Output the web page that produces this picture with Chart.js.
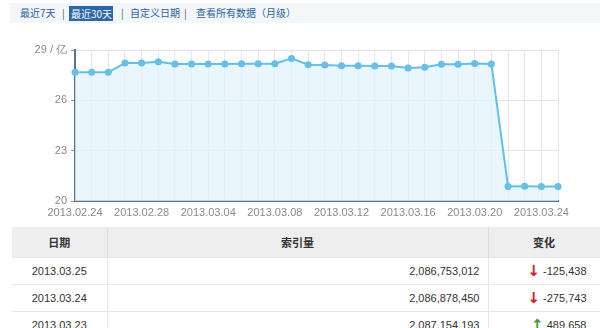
<!DOCTYPE html>
<html><head><meta charset="utf-8">
<script src="https://cdn.jsdelivr.net/npm/chart.js@4"></script>
<style>
html,body{margin:0;padding:0;background:#fff;width:600px;height:328px;overflow:hidden;font-family:"Liberation Sans","Noto Sans CJK SC",sans-serif;}
#tabs{position:absolute;left:10px;top:3px;width:590px;height:20px;background:#f4f7fa;font-size:10px;font-family:"Noto Sans CJK SC",sans-serif;color:#2a5ea8;line-height:20px;}
#tabs span{position:absolute;top:0;white-space:nowrap;}
#tabs .sep{color:#555;}
#tabs .sel{background:#2b67ae;color:#fff;top:3px;height:15px;line-height:15px;padding:0 2px;}
#wrap{position:absolute;left:0;top:0;width:600px;height:225px;}
table{position:absolute;left:12px;top:227px;width:588px;border-collapse:collapse;table-layout:fixed;font-size:11px;color:#333;}
th{background:#eeeeee;height:30px;font-family:"Noto Sans CJK SC",sans-serif;font-weight:bold;font-size:11px;border-right:1px solid #dddddd;padding:0;}
td{height:26px;border-top:1px solid #e6e6e6;border-right:1px solid #e6e6e6;padding:0;white-space:nowrap;}
.c1{text-align:center;}
.c2{text-align:right;padding-right:8px;}
.c3{text-align:right;padding-right:13px;}
.dn{color:#d42020;font-weight:bold;font-size:15px;font-family:"DejaVu Sans";vertical-align:-1px;}
.up{color:#3a9a3a;font-weight:bold;font-size:15px;font-family:"DejaVu Sans";vertical-align:-1px;}
</style></head>
<body>
<div id="tabs">
<span style="left:10px">最近7天</span>
<span class="sep" style="left:52px">|</span>
<span class="sel" style="left:59px;width:40px">最近30天</span>
<span class="sep" style="left:111px">|</span>
<span style="left:120px">自定义日期</span>
<span class="sep" style="left:174px">|</span>
<span style="left:186px">查看所有数据（月级）</span>
</div>
<div id="wrap"><canvas id="c" width="600" height="225"></canvas></div>
<table>
<colgroup><col style="width:95px"><col style="width:381px"><col style="width:112px"></colgroup>
<tr><th class="c1">日期</th><th>索引量</th><th>变化</th></tr>
<tr><td class="c1">2013.03.25</td><td class="c2">2,086,753,012</td><td class="c3"><span class="dn">↓</span> -125,438</td></tr>
<tr><td class="c1">2013.03.24</td><td class="c2">2,086,878,450</td><td class="c3"><span class="dn">↓</span> -275,743</td></tr>
<tr><td class="c1">2013.03.23</td><td class="c2">2,087,154,193</td><td class="c3"><span class="up">↑</span> 489,658</td></tr>
</table>
<script>
const dates = ["2013.02.24","2013.02.25","2013.02.26","2013.02.27","2013.02.28","2013.03.01","2013.03.02","2013.03.03","2013.03.04","2013.03.05","2013.03.06","2013.03.07","2013.03.08","2013.03.09","2013.03.10","2013.03.11","2013.03.12","2013.03.13","2013.03.14","2013.03.15","2013.03.16","2013.03.17","2013.03.18","2013.03.19","2013.03.20","2013.03.21","2013.03.22","2013.03.23","2013.03.24","2013.03.25"];
const indexValues = [27.67,27.67,27.67,28.22,28.22,28.30,28.17,28.17,28.17,28.17,28.18,28.18,28.18,28.50,28.12,28.11,28.06,28.06,28.05,28.05,27.93,27.97,28.15,28.15,28.19,28.17,20.867,20.872,20.869,20.868];
const yTicks = [20,23,26,29];
const yUnit = "亿";

new Chart(document.getElementById('c'), {
  type: 'line',
  data: {
    labels: dates,
    datasets: [{
      data: indexValues,
      borderColor: '#62c0ea',
      backgroundColor: 'rgba(225,243,252,0.75)',
      fill: 'origin',
      borderWidth: 2,
      tension: 0,
      pointRadius: 3.5,
      pointBackgroundColor: '#62c0ea',
      pointBorderColor: '#62c0ea',
      pointBorderWidth: 0
    }]
  },
  options: {
    responsive: false,
    animation: false,
    layout: {padding: {left: 0, right: 42, top: 50, bottom: 0}},
    plugins: {legend: {display: false}, tooltip: {enabled: false}},
    scales: {
      x: {
        offset: false,
        grid: {color: '#e2e6ea', drawTicks: false},
        border: {color: '#5a7489', width: 2},
        ticks: {
          autoSkip: false, maxRotation: 0, padding: 5,
          color: '#8a8a8a', font: {size: 11, family: 'Liberation Sans'},
          callback: function(v, i){ return i % 4 === 0 ? dates[i] : ''; }
        },
        afterFit: function(s){ s.height = 24; }
      },
      y: {
        min: 20, max: 29,
        afterBuildTicks: function(s){ s.ticks = yTicks.map(v => ({value: v})); },
        grid: {color: '#e2e6ea', tickLength: 4, tickColor: '#999'},
        border: {color: '#5a7489', width: 2},
        ticks: {
          padding: 4, color: '#8a8a8a', font: {size: 11, family: 'Liberation Sans'},
          callback: function(v){ return v === 29 ? '29 / ' + yUnit : String(v); }
        },
        afterFit: function(s){ s.width = 75; }
      }
    }
  }
});
</script>
</body></html>
